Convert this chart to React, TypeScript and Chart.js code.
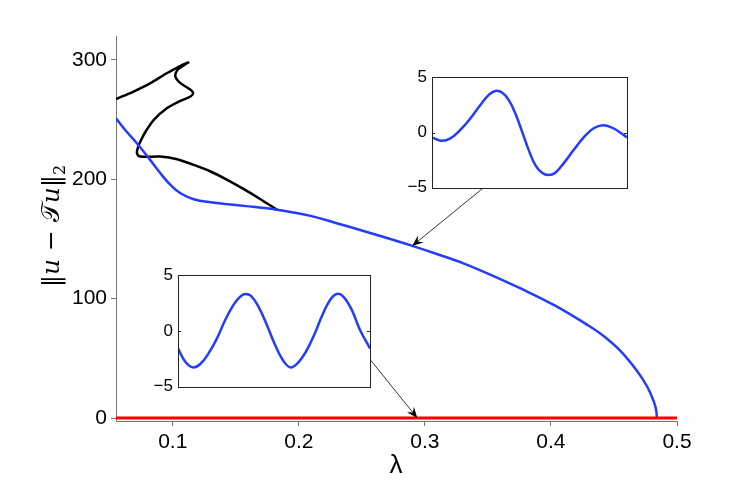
import React, { useEffect, useRef } from "react";
import { Chart, registerables } from "chart.js";
Chart.register(...registerables);

const FONT = "'Liberation Sans', Arial, sans-serif";
const BLUE = "rgb(35,60,255)";

// main axes
const xTicks = [0.1, 0.2, 0.3, 0.4, 0.5];
const xTickLabels = ["0.1", "0.2", "0.3", "0.4", "0.5"];
const yTicks = [0, 100, 200, 300];
const yTickLabels = ["0", "100", "200", "300"];

// blue branch
const blueX = [0.055, 0.0625, 0.0717, 0.081, 0.0902, 0.0982, 0.1061, 0.1167, 0.13, 0.1564, 0.1829, 0.2093, 0.23, 0.25, 0.27, 0.29, 0.31, 0.33, 0.35, 0.376, 0.4026, 0.4289, 0.442, 0.4553, 0.4686, 0.4765, 0.4817, 0.4835, 0.484];
const blueY = [251, 241, 230, 217.7, 205, 195.3, 188.3, 183.3, 180.8, 177.7, 174.4, 169.3, 163.2, 157.1, 150.8, 144.2, 137.2, 129.8, 121, 108.5, 94.5, 78, 68.5, 56, 39, 26, 13.5, 6.5, 0];

// black branch (ordered along the curve)
const blackX = [0.0551, 0.069, 0.0823, 0.0956, 0.1122, 0.104, 0.1021, 0.1061, 0.1141, 0.1162, 0.1141, 0.1061, 0.0956, 0.085, 0.0785, 0.0745, 0.0722, 0.0717, 0.0745, 0.0902, 0.1035, 0.1167, 0.13, 0.1432, 0.1564, 0.1696, 0.1829];
const blackY = [267.2, 273.5, 280.5, 289, 297.8, 291.7, 286, 280.5, 275, 272.2, 269.3, 265.7, 259.6, 249.8, 240, 232, 226, 221.5, 219, 219, 216.8, 212, 206.5, 199.5, 191.7, 183.3, 174.4];

// red trivial branch
const redX = [0.055, 0.5];
const redY = [0, 0];

// arrows (main-axis data coordinates): from inset to curve
const arrowFromX = [0.3464, 0.2569];
const arrowFromY = [192.8, 48.6];
const arrowToX = [0.29, 0.294];
const arrowToY = [144.2, 0];

// insets
const insetTicks = [-5, 0, 5];
const insetTickLabels = ["\u22125", "0", "5"];
const inset1T = [0, 0.048, 0.094, 0.145, 0.197, 0.248, 0.291, 0.325, 0.359, 0.393, 0.427, 0.462, 0.496, 0.53, 0.564, 0.598, 0.632, 0.675, 0.726, 0.778, 0.829, 0.877, 0.923, 0.966, 1];
const inset1V = [-0.44, -0.74, -0.53, 0.23, 1.28, 2.49, 3.4, 3.76, 3.61, 2.95, 1.74, 0.08, -1.59, -2.95, -3.64, -3.85, -3.64, -2.79, -1.59, -0.44, 0.38, 0.65, 0.44, -0.02, -0.44];
const inset2T = [0, 0.038, 0.078, 0.116, 0.159, 0.203, 0.246, 0.289, 0.324, 0.35, 0.38, 0.419, 0.463, 0.506, 0.546, 0.584, 0.622, 0.666, 0.709, 0.752, 0.792, 0.827, 0.861, 0.905, 0.948, 1];
const inset2V = [-1.56, -2.75, -3.26, -2.96, -2.01, -0.66, 0.99, 2.34, 3.08, 3.32, 3.14, 2.19, 0.54, -1.26, -2.6, -3.26, -2.9, -1.86, -0.36, 1.44, 2.78, 3.32, 3.08, 1.89, 0.09, -1.56];

const pts = (xs: number[], ys: number[]) => xs.map((x, i) => ({ x, y: ys[i] }));

function drawArrow(ctx: CanvasRenderingContext2D, x1: number, y1: number, x2: number, y2: number) {
  const ang = Math.atan2(y2 - y1, x2 - x1);
  const L = 11, W = 4.5, notch = 7;
  ctx.save();
  ctx.strokeStyle = "#000";
  ctx.lineWidth = 0.8;
  ctx.beginPath();
  ctx.moveTo(x1, y1);
  ctx.lineTo(x2 - Math.cos(ang) * notch, y2 - Math.sin(ang) * notch);
  ctx.stroke();
  ctx.translate(x2, y2);
  ctx.rotate(ang);
  ctx.fillStyle = "#000";
  ctx.beginPath();
  ctx.moveTo(0, 0);
  ctx.lineTo(-L, -W);
  ctx.lineTo(-notch, 0);
  ctx.lineTo(-L, W);
  ctx.closePath();
  ctx.fill();
  ctx.restore();
}

const mainPlugin = {
  id: "mainDecor",
  afterDatasetsDraw(chart: any) {
    const { ctx, scales } = chart;
    const xs = scales.x, ys = scales.y;
    for (let i = 0; i < arrowFromX.length; i++) {
      drawArrow(
        ctx,
        xs.getPixelForValue(arrowFromX[i]),
        ys.getPixelForValue(arrowFromY[i]),
        xs.getPixelForValue(arrowToX[i]),
        ys.getPixelForValue(arrowToY[i])
      );
    }
  },
  afterDraw(chart: any) {
    const { ctx } = chart;
    ctx.save();
    // x label
    ctx.fillStyle = "#000";
    ctx.font = `26px ${FONT}`;
    ctx.textAlign = "center";
    ctx.textBaseline = "middle";
    ctx.fillText("\u03bb", 396, 466);
    // y label, rotated
    ctx.translate(51, 226);
    ctx.rotate(-Math.PI / 2);
    const serif = "'DejaVu Serif', 'Liberation Serif', serif";
    const segs: [string, string, number][] = [
      ["\u2016", `24px ${serif}`, 0],
      ["u", `italic 25px ${serif}`, 0],
      [" \u2212 ", `25px ${serif}`, 0],
      ["\ud835\udcaf", `25px ${serif}`, 0],
      ["u", `italic 25px ${serif}`, 0],
      ["\u2016", `24px ${serif}`, 0],
      ["2", `16px ${serif}`, 6],
    ];
    let total = 0;
    for (const s of segs) {
      ctx.font = s[1];
      total += ctx.measureText(s[0]).width;
    }
    let x = -total / 2;
    ctx.textAlign = "left";
    ctx.textBaseline = "alphabetic";
    for (const s of segs) {
      ctx.font = s[1];
      ctx.fillText(s[0], x, 8 + s[2]);
      x += ctx.measureText(s[0]).width;
    }
    ctx.restore();
  },
};

const insetPlugin = {
  id: "insetDecor",
  beforeDatasetsDraw(chart: any) {
    const { ctx, chartArea: a } = chart;
    ctx.save();
    ctx.fillStyle = "#fff";
    ctx.fillRect(a.left, a.top, a.right - a.left, a.bottom - a.top);
    ctx.restore();
  },
  afterDraw(chart: any) {
    const { ctx, chartArea: a, scales } = chart;
    ctx.save();
    ctx.strokeStyle = "#222";
    ctx.lineWidth = 1;
    ctx.strokeRect(Math.round(a.left) + 0.5, Math.round(a.top) + 0.5, Math.round(a.right - a.left), Math.round(a.bottom - a.top));
    const y0 = Math.round(scales.y.getPixelForValue(0)) + 0.5;
    ctx.beginPath();
    ctx.moveTo(a.left, y0);
    ctx.lineTo(a.left + 3, y0);
    ctx.moveTo(a.right, y0);
    ctx.lineTo(a.right - 3, y0);
    ctx.stroke();
    ctx.restore();
  },
};

function MainChart() {
  const ref = useRef<HTMLCanvasElement>(null);
  useEffect(() => {
    const chart = new Chart(ref.current!, {
      type: "scatter",
      data: {
        datasets: [
          { data: pts(redX, redY), borderColor: "rgb(255,0,0)", borderWidth: 3, showLine: true, pointRadius: 0, order: 0 } as any,
          { data: pts(blueX, blueY), borderColor: BLUE, borderWidth: 2.5, showLine: true, pointRadius: 0, tension: 0.4, order: 1 } as any,
          { data: pts(blackX, blackY), borderColor: "#000", borderWidth: 2.5, showLine: true, pointRadius: 0, tension: 0.3, order: 2 } as any,
        ],
      },
      options: {
        responsive: false,
        animation: false,
        devicePixelRatio: 1,
        layout: { autoPadding: false, padding: { left: 0, right: 70, top: 36, bottom: 0 } },
        plugins: { legend: { display: false }, tooltip: { enabled: false } },
        scales: {
          x: {
            type: "linear",
            min: 0.055,
            max: 0.5,
            afterBuildTicks: (s: any) => { s.ticks = xTicks.map((v) => ({ value: v })); },
            afterFit: (s: any) => { s.height = 63; },
            grid: { drawOnChartArea: false, color: "#777", tickLength: 5 },
            border: { color: "#777" },
            ticks: {
              font: { family: FONT, size: 21 },
              color: "#000",
              padding: 4,
              maxRotation: 0,
              callback: (v: any) => xTickLabels[xTicks.indexOf(v)] ?? "",
            },
          },
          y: {
            type: "linear",
            min: -2.5,
            max: 320,
            afterBuildTicks: (s: any) => { s.ticks = yTicks.map((v) => ({ value: v })); },
            afterFit: (s: any) => { s.width = 116; },
            grid: { drawOnChartArea: false, color: "#777", tickLength: 5 },
            border: { color: "#777" },
            ticks: {
              font: { family: FONT, size: 21 },
              color: "#000",
              padding: 4,
              callback: (v: any) => yTickLabels[yTicks.indexOf(v)] ?? "",
            },
          },
        },
      } as any,
      plugins: [mainPlugin],
    });
    return () => chart.destroy();
  }, []);
  return <canvas ref={ref} width={747} height={484} style={{ position: "absolute", left: 0, top: 0 }} />;
}

function Inset({ t, v, left, top, width, height }: { t: number[]; v: number[]; left: number; top: number; width: number; height: number }) {
  const ref = useRef<HTMLCanvasElement>(null);
  useEffect(() => {
    const chart = new Chart(ref.current!, {
      type: "scatter",
      data: {
        datasets: [
          { data: pts(t, v), borderColor: BLUE, borderWidth: 2.5, showLine: true, pointRadius: 0, tension: 0.4 } as any,
        ],
      },
      options: {
        responsive: false,
        animation: false,
        devicePixelRatio: 1,
        layout: { autoPadding: false, padding: { left: 0, right: 10, top: 10, bottom: 10 } },
        plugins: { legend: { display: false }, tooltip: { enabled: false } },
        scales: {
          x: { type: "linear", min: 0, max: 1, display: false },
          y: {
            type: "linear",
            min: -5,
            max: 5,
            afterBuildTicks: (s: any) => { s.ticks = insetTicks.map((x) => ({ value: x })); },
            afterFit: (s: any) => { s.width = 40; },
            grid: { display: false, drawTicks: false },
            border: { display: false },
            ticks: {
              font: { family: FONT, size: 17 },
              color: "#000",
              padding: 5,
              callback: (x: any) => insetTickLabels[insetTicks.indexOf(x)] ?? "",
            },
          },
        },
      } as any,
      plugins: [insetPlugin],
    });
    return () => chart.destroy();
  }, []);
  return <canvas ref={ref} width={width} height={height} style={{ position: "absolute", left, top }} />;
}

export default function App() {
  return (
    <div style={{ position: "absolute", left: 0, top: 0, width: 747, height: 484, background: "#fff" }}>
      <MainChart />
      <Inset t={inset1T} v={inset1V} left={392} top={62} width={245} height={141} />
      <Inset t={inset2T} v={inset2V} left={138} top={260} width={242} height={142} />
    </div>
  );
}
